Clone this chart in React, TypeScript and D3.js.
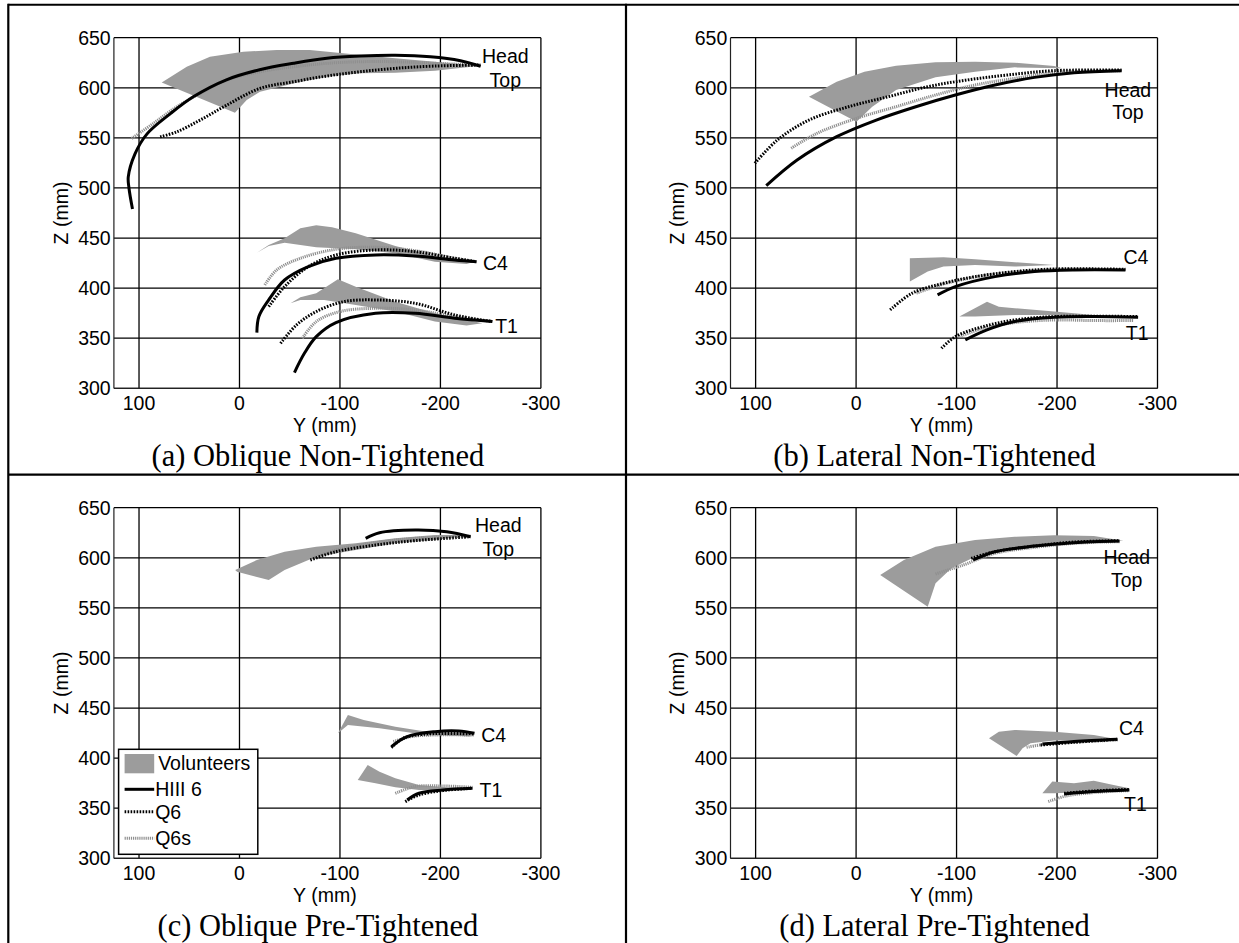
import React from 'react';
import * as d3 from 'd3';

type Pt = [number, number];

// Y (mm) on the horizontal axis, Z (mm) on the vertical axis
const xTicks = [100, 0, -100, -200, -300];
const yTicks = [300, 350, 400, 450, 500, 550, 600, 650];
const legendNames = ['Volunteers', 'HIII 6', 'Q6', 'Q6s'];

// (a) Oblique Non-Tightened  -- each list holds Head Top, C4, T1
const aVolunteers: Pt[][] = [
  [[77.4, 605.4], [52.5, 621], [29.4, 631], [-3.8, 636], [-37, 637.7], [-70, 637.7], [-103, 634.4], [-155, 629.4], [-194.5, 626], [-240, 622], [-194.5, 617], [-155, 615], [-120, 614.4], [-86.8, 611], [-53.6, 604.4], [-20.4, 596], [-7.2, 587.7], [4.5, 575]],
  [[-17.3, 435.4], [-29.1, 443.1], [-44.9, 449.7], [-60.6, 459.7], [-76.4, 462.7], [-92.1, 460.7], [-115.7, 454.7], [-155.1, 442.1], [-194.5, 432.1], [-233.9, 426.4], [-226, 424.1], [-194.5, 426.4], [-155.1, 434.8], [-115.7, 438.8], [-76.4, 440.8], [-44.9, 445.4], [-29.1, 442.1]],
  [[-50.8, 384.9], [-60.6, 390.8], [-76.4, 394.8], [-98, 408.8], [-115.7, 401.5], [-155.1, 386.5], [-194.5, 374.9], [-233.9, 366.6], [-241.7, 364.9], [-226, 362.6], [-194.5, 366.6], [-155.1, 376.6], [-115.7, 383.2], [-84.3, 388.2], [-60.6, 388.2]],
];
const aHiii: Pt[][] = [
  [[106.5, 479], [110, 500], [110.7, 511], [104, 534], [92, 554], [69, 574], [46, 591], [13, 608], [-20, 618], [-54, 624.5], [-87, 629.5], [-120, 631.7], [-155, 632.5], [-190, 631], [-220, 627], [-240, 621.5]],
  [[-17.3, 355.6], [-19.3, 371.6], [-29.1, 388.2], [-44.9, 408.1], [-68.5, 421.5], [-96, 429.8], [-135.4, 433.1], [-174.8, 432.1], [-214.2, 428.1], [-235.8, 426.4]],
  [[-54.7, 315.7], [-64.6, 334.9], [-76.4, 351.6], [-96, 365.6], [-135.4, 374.9], [-174.8, 374.9], [-214.2, 369.9], [-251.6, 366.6]],
];
const aQ6: Pt[][] = [
  [[79, 551], [62.5, 556], [39.3, 567.7], [12.7, 582.7], [-20.4, 599.4], [-53.6, 606], [-86.8, 611.7], [-120, 616], [-155, 619.4], [-194.5, 621.7], [-240, 622.7]],
  [[-29.1, 381.5], [-44.9, 401.5], [-68.5, 421.5], [-96, 433.1], [-135.4, 438.1], [-174.8, 436.4], [-214.2, 429.8], [-235.8, 426.4]],
  [[-40.9, 344.9], [-56.7, 363.2], [-76.4, 376.6], [-103.9, 386.5], [-135.4, 388.2], [-174.8, 384.9], [-214.2, 373.2], [-251.6, 366.6]],
];
const aQ6s: Pt[][] = [
  [[107.3, 549.4], [85.8, 564.4], [62.5, 581], [39.3, 594.4], [12.7, 607.7], [-20.4, 616], [-53.6, 621], [-86.8, 624.4], [-120, 626], [-155, 626], [-194.5, 624.4], [-240, 622.7]],
  [[-25.2, 403.2], [-37, 418.1], [-60.6, 429.8], [-96, 438.8], [-135.4, 440.8], [-174.8, 437.4], [-214.2, 429.8], [-235.8, 426.4]],
  [[-62.6, 349.9], [-76.4, 366.6], [-100, 376.6], [-135.4, 379.9], [-174.8, 378.2], [-214.2, 371.6], [-251.6, 366.6]],
];

// (b) Lateral Non-Tightened
const bVolunteers: Pt[][] = [
  [[46.9, 591.1], [19.3, 606.1], [-8.3, 616.1], [-39.8, 622.1], [-79.1, 625.4], [-118.5, 626], [-157.9, 625], [-197.2, 621.7], [-205, 619.4], [-157.9, 620.4], [-118.5, 616.1], [-79.1, 610.4], [-39.8, 597.8], [-16.1, 581.1], [-0.4, 566.2]],
  [[-53.5, 429.8], [-87, 430.8], [-118.5, 428.8], [-157.9, 425.8], [-197.2, 423.1], [-157.9, 421.5], [-118.5, 423.1], [-87, 421.5], [-71.3, 416.5], [-53.5, 406.5]],
  [[-102.8, 371.6], [-130.3, 386.5], [-142.1, 381.5], [-157.9, 379.9], [-197.2, 376.6], [-236.6, 373.2], [-268.1, 371.6], [-236.6, 372], [-197.2, 373.2], [-157.9, 373.2], [-118.5, 371.6]],
];
const bHiii: Pt[][] = [
  [[89.4, 502.3], [58.7, 527.9], [19.3, 551.2], [-20.1, 567.8], [-59.4, 581.1], [-98.8, 592.8], [-138.2, 602.8], [-177.6, 610.4], [-216.9, 615.1], [-264.2, 617.1]],
  [[-81.1, 393.2], [-98.8, 401.5], [-138.2, 411.5], [-177.6, 416.5], [-216.9, 418.1], [-268.1, 418.1]],
  [[-108.7, 348.3], [-130.3, 358.3], [-157.9, 366.6], [-197.2, 370.9], [-236.6, 371.6], [-280.7, 370.9]],
];
const bQ6: Pt[][] = [
  [[100.8, 524.6], [78.3, 547.9], [46.9, 567.8], [7.5, 581.1], [-31.9, 591.1], [-71.3, 601.1], [-110.6, 607.8], [-150, 612.7], [-197.2, 617.1], [-264.2, 617.7]],
  [[-33.9, 378.2], [-55.5, 394.8], [-87, 404.8], [-118.5, 411.5], [-157.9, 416.5], [-197.2, 419.1], [-268.1, 418.8]],
  [[-85, 339.9], [-98.8, 351.6], [-126.4, 361.6], [-157.9, 368.2], [-197.2, 371.6], [-280.7, 371.6]],
];
const bQ6s: Pt[][] = [
  [[64.6, 539.6], [39, 554.5], [-0.4, 569.5], [-39.8, 581.1], [-79.1, 592.8], [-118.5, 602.8], [-157.9, 609.4], [-197.2, 615.1], [-264.2, 617.1]],
  [[-60, 395], [-87, 404], [-118.5, 411], [-157.9, 416], [-197.2, 418.5], [-268.1, 418.5]],
  [[-102.8, 351.6], [-126.4, 359.9], [-157.9, 365.6], [-197.2, 368.2], [-236.6, 367.6], [-276, 367.6]],
];

// (c) Oblique Pre-Tightened
const cVolunteers: Pt[][] = [
  [[4.3, 587.8], [-17.3, 597.8], [-44.9, 606.1], [-76.4, 611.1], [-115.7, 614.4], [-155.1, 619.4], [-194.5, 622.7], [-229.9, 622.7], [-194.5, 617.7], [-155.1, 614.4], [-115.7, 607.8], [-76.4, 601.1], [-44.9, 587.8], [-29.1, 577.8], [2.4, 586.1]],
  [[-98, 424.8], [-107.9, 443.1], [-123.6, 438.1], [-155.1, 431.4], [-186.6, 426.4], [-226, 424.8], [-230, 421.5], [-186.6, 423.1], [-139.4, 429.8], [-107.9, 433.1]],
  [[-117.7, 378.2], [-127.6, 393.2], [-139.4, 386.5], [-155.1, 379.9], [-178.7, 373.2], [-206.3, 370.9], [-229.9, 369.9], [-206.3, 367.6], [-178.7, 368.2], [-155.1, 370.9], [-135.4, 374.9]],
];
const cHiii: Pt[][] = [
  [[-125.6, 619.4], [-139.4, 625], [-174.8, 627.7], [-206.3, 626], [-229.9, 621]],
  [[-151.2, 411.5], [-166.9, 421.5], [-194.5, 426.4], [-218.1, 427.1], [-233.9, 424.8]],
  [[-166.9, 358.3], [-178.7, 364.9], [-202.4, 368.2], [-231.9, 369.9]],
];
const cQ6: Pt[][] = [
  [[-70.5, 597.8], [-96.1, 606.1], [-135.4, 612.7], [-174.8, 617.1], [-229.9, 621]],
  [[-151.2, 410.5], [-163, 419.8], [-186.6, 424.1], [-233.9, 424.1]],
  [[-165, 356.6], [-178.7, 363.2], [-202.4, 367.6], [-231.9, 369.9]],
];
const cQ6s: Pt[][] = [
  [[-72.4, 599.4], [-96.1, 607.8], [-135.4, 615.1], [-174.8, 619.4], [-229.9, 621.7]],
  [[-153.1, 416.5], [-170.9, 421.5], [-194.5, 423.1], [-233.9, 423.1]],
  [[-155.1, 364.9], [-174.8, 371.6], [-202.4, 372.2], [-231.9, 370.9]],
];

// (d) Lateral Pre-Tightened
const dVolunteers: Pt[][] = [
  [[-24, 582.8], [-47.6, 597.8], [-79.1, 611.1], [-118.5, 617.7], [-157.9, 621], [-197.2, 622.4], [-236.6, 621.7], [-266.1, 617.1], [-236.6, 616.1], [-197.2, 613.7], [-157.9, 609.4], [-118.5, 601.1], [-94.9, 589.5], [-79.1, 574.5], [-71.3, 551.2]],
  [[-132.3, 419.8], [-142.1, 426.4], [-157.9, 428.1], [-197.2, 426.4], [-236.6, 423.1], [-260.2, 418.8], [-236.6, 417.5], [-197.2, 417.5], [-173.6, 414.8], [-165.7, 409.8], [-159.8, 402.2]],
  [[-185.4, 364.9], [-195.3, 376.6], [-216.9, 374.9], [-236.6, 377.5], [-256.3, 373.2], [-272, 369.9], [-252.4, 366.6], [-216.9, 365.6], [-197.2, 364.9]],
];
const dHiii: Pt[][] = [
  [[-116.5, 597.8], [-138.2, 606.1], [-177.6, 611.7], [-216.9, 615.1], [-262.2, 616.7]],
  [[-185.4, 414.1], [-216.9, 416.5], [-260.2, 418.8]],
  [[-207.1, 364.2], [-236.6, 366.6], [-272, 368.2]],
];
const dQ6: Pt[][] = [
  [[-114.6, 599.4], [-138.2, 606.1], [-177.6, 611.7], [-216.9, 615.7], [-262.2, 617.1]],
  [[-183.5, 413.1], [-216.9, 415.8], [-260.2, 418.8]],
  [[-207.1, 364.9], [-236.6, 367.2], [-272, 368.8]],
];
const dQ6s: Pt[][] = [
  [[-79.1, 583.8], [-106.7, 592.8], [-138.2, 604.4], [-177.6, 610.4], [-216.9, 614.4], [-262.2, 616.1]],
  [[-169.7, 410.8], [-189.4, 414.1], [-228.7, 416.5], [-260.2, 418.1]],
  [[-191.3, 356.6], [-209, 362.2], [-236.6, 365.6], [-272, 367.6]],
];

// body labels: [text, Y, Z] in data units
const aLabels: [string, number, number][] = [['Head', -264.6, 624.7], ['Top', -264.6, 600.7], ['C4', -254.8, 418.4], ['T1', -265.8, 355]];
const bLabels: [string, number, number][] = [['Head', -270.5, 591], ['Top', -270.5, 568.4], ['C4', -278.6, 424.4], ['T1', -279.8, 348.4]];
const cLabels: [string, number, number][] = [['Head', -257.6, 626], ['Top', -257.6, 601.7], ['C4', -253, 416], ['T1', -250.3, 361]];
const dLabels: [string, number, number][] = [['Head', -269.4, 593.7], ['Top', -269.4, 571], ['C4', -274, 423.4], ['T1', -278, 347]];

const panels = [
  { caption: '(a) Oblique Non-Tightened', vol: aVolunteers, hiii: aHiii, q6: aQ6, q6s: aQ6s, labels: aLabels, legend: false },
  { caption: '(b) Lateral Non-Tightened', vol: bVolunteers, hiii: bHiii, q6: bQ6, q6s: bQ6s, labels: bLabels, legend: false },
  { caption: '(c) Oblique Pre-Tightened', vol: cVolunteers, hiii: cHiii, q6: cQ6, q6s: cQ6s, labels: cLabels, legend: true },
  { caption: '(d) Lateral Pre-Tightened', vol: dVolunteers, hiii: dHiii, q6: dQ6, q6s: dQ6s, labels: dLabels, legend: false },
];

const W = 1239;
const H = 943;
const plotW = 427;
const plotH = 350.6;
const colX = [113.9, 730.5];
const rowY = [37.7, 507.7];
const sans = '"Liberation Sans", Arial, sans-serif';
const serif = '"Liberation Serif", "Times New Roman", serif';
const corridorFill = '#9c9c9c';

const x = d3.scaleLinear().domain([125, -300]).range([0, plotW]);
const y = d3.scaleLinear().domain([300, 650]).range([plotH, 0]);
const curve = d3.line<Pt>().x(d => x(d[0])).y(d => y(d[1])).curve(d3.curveCatmullRom.alpha(0.5));
const area = d3.line<Pt>().x(d => x(d[0])).y(d => y(d[1])).curve(d3.curveLinearClosed);

const styles = {
  hiii: { stroke: '#000', strokeWidth: 3, dash: undefined as string | undefined },
  q6: { stroke: '#000', strokeWidth: 3, dash: '1.6 1.4' },
  q6s: { stroke: '#8f8f8f', strokeWidth: 3, dash: '1.2 0.9' },
};

const Legend = () => {
  const rows = [
    { y: 281.6, s: styles.hiii },
    { y: 304, s: styles.q6 },
    { y: 330.6, s: styles.q6s },
  ];
  return (
    <g transform="translate(4.7,241.6)">
      <rect width={139.2} height={105} fill="#fff" stroke="#000" strokeWidth={1.5} />
      <rect x={6} y={4.7} width={29.6} height={19.3} fill={corridorFill} />
      <text x={39.6} y={20.7} fontSize={19.5} fontFamily={sans}>{legendNames[0]}</text>
      {rows.map((r, i) => (
        <g key={i}>
          <line x1={6} x2={35.6} y1={r.y - 241.6} y2={r.y - 241.6} stroke={r.s.stroke}
            strokeWidth={r.s.strokeWidth} strokeDasharray={r.s.dash} />
          <text x={36.6} y={r.y - 241.6 + 7} fontSize={19.5} fontFamily={sans}>{legendNames[i + 1]}</text>
        </g>
      ))}
    </g>
  );
};

const Panel = ({ p, left, top }: { p: typeof panels[number]; left: number; top: number }) => (
  <g transform={`translate(${left},${top})`}>
    {xTicks.map(t => (
      <line key={'gx' + t} x1={x(t)} x2={x(t)} y1={0} y2={plotH} stroke="#000" strokeWidth={1.3} />
    ))}
    {yTicks.map(t => (
      <line key={'gy' + t} x1={0} x2={plotW} y1={y(t)} y2={y(t)} stroke="#000" strokeWidth={1.3} />
    ))}
    <line x1={0} x2={0} y1={0} y2={plotH} stroke="#222" strokeWidth={1.2} />
    <line x1={0} x2={plotW} y1={plotH} y2={plotH} stroke="#222" strokeWidth={1.2} />
    {p.vol.map((d, i) => <path key={'v' + i} d={area(d) ?? ''} fill={corridorFill} stroke="none" />)}
    {(['q6s', 'q6', 'hiii'] as const).map(k =>
      p[k].map((d, i) => (
        <path key={k + i} d={curve(d) ?? ''} fill="none" stroke={styles[k].stroke}
          strokeWidth={styles[k].strokeWidth} strokeDasharray={styles[k].dash} />
      ))
    )}
    {p.labels.map(([txt, lx, ly], i) => (
      <text key={'l' + i} x={x(lx)} y={y(ly)} textAnchor="middle" fontSize={19.5} fontFamily={sans}>{txt}</text>
    ))}
    {yTicks.map(t => (
      <text key={'ty' + t} x={-3.2} y={y(t) + 6.8} textAnchor="end" fontSize={19.5} fontFamily={sans}>{t}</text>
    ))}
    {xTicks.map(t => (
      <text key={'tx' + t} x={x(t)} y={plotH + 22} textAnchor="middle" fontSize={19.5} fontFamily={sans}>{t}</text>
    ))}
    <text x={211} y={plotH + 44} textAnchor="middle" fontSize={19.5} fontFamily={sans}>Y (mm)</text>
    <text transform={`translate(-46.4,${plotH / 2}) rotate(-90)`} textAnchor="middle" fontSize={19.5}
      fontFamily={sans}>Z (mm)</text>
    {p.legend && <Legend />}
    <text x={204} y={428} textAnchor="middle" fontSize={30.5} fontFamily={serif}>{p.caption}</text>
  </g>
);

const App = () => (
  <svg width={W} height={H} style={{ position: 'absolute', left: 0, top: 0, background: '#fff' }}>
    <rect width={W} height={H} fill="#fff" />
    {panels.map((p, i) => (
      <Panel key={i} p={p} left={colX[i % 2]} top={rowY[Math.floor(i / 2)]} />
    ))}
    <line x1={8.3} x2={W} y1={4.7} y2={4.7} stroke="#000" strokeWidth={2} />
    <line x1={8.3} x2={W} y1={474.7} y2={474.7} stroke="#000" strokeWidth={2.2} />
    <line x1={8.3} x2={8.3} y1={3.7} y2={H} stroke="#000" strokeWidth={2.2} />
    <line x1={626} x2={626} y1={3.7} y2={H} stroke="#000" strokeWidth={2.2} />
  </svg>
);

export default App;
